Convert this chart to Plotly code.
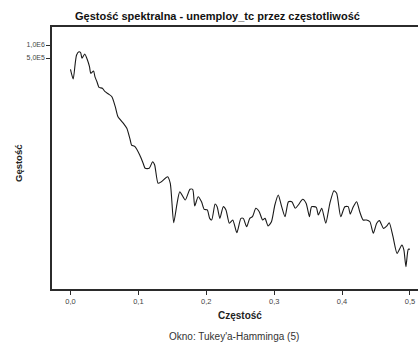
import plotly.graph_objects as go

# Spectral density estimate of unemploy_tc (Tukey-Hamming window, span 5)
frequency = [
    0.000, 0.004, 0.007, 0.009, 0.0125, 0.015, 0.017, 0.021, 0.025, 0.028,
    0.030, 0.034, 0.036, 0.039, 0.042, 0.047, 0.051, 0.056, 0.061, 0.066,
    0.070, 0.078, 0.083, 0.088, 0.090, 0.095, 0.102, 0.107, 0.110, 0.116,
    0.121, 0.124, 0.129, 0.134, 0.143, 0.147, 0.152, 0.157, 0.161, 0.169,
    0.176, 0.180, 0.183, 0.188, 0.193, 0.197, 0.2015, 0.205, 0.208, 0.213,
    0.216, 0.220, 0.225, 0.229, 0.234, 0.239, 0.245, 0.251, 0.2545, 0.2595,
    0.264, 0.268, 0.273, 0.278, 0.283, 0.2865, 0.291, 0.296, 0.301, 0.306,
    0.311, 0.316, 0.321, 0.326, 0.331, 0.3355, 0.342, 0.347, 0.352, 0.355,
    0.362, 0.365, 0.370, 0.376, 0.382, 0.388, 0.392, 0.398, 0.404, 0.409,
    0.412, 0.4165, 0.4215, 0.426, 0.431, 0.436, 0.441, 0.446, 0.451, 0.455,
    0.461, 0.466, 0.4695, 0.475, 0.481, 0.488, 0.491, 0.494, 0.4975, 0.500,
]
density = [
    2.74e5, 1.63e5, 3.77e5, 5.88e5, 7.0e5, 6.64e5, 4.92e5, 6.19e5, 4.50e5, 3.15e5,
    2.21e5, 2.50e5, 1.85e5, 1.41e5, 1.05e5, 9.95e4, 8.30e4, 7.35e4, 6.35e4, 3.73e4,
    2.19e4, 1.54e4, 1.18e4, 6.32e3, 4.84e3, 4.43e3, 2.84e3, 1.83e3, 1.40e3, 1.40e3,
    1.99e3, 1.67e3, 630, 686, 893, 630, 77, 217, 402, 258,
    457, 457, 188, 308, 236, 157, 152, 97, 89, 208,
    181, 97, 181, 152, 75, 89, 45, 97, 97, 62,
    97, 106, 166, 138, 89, 97, 65, 81, 198, 337,
    181, 106, 236, 236, 166, 198, 268, 217, 106, 181,
    175, 116, 166, 75, 217, 424, 369, 106, 181, 181,
    122, 181, 236, 138, 89, 89, 81, 44, 75, 86,
    57, 65, 77, 36.5, 15, 23.4, 18, 7.4, 18.7, 18.7,
]

x_ticks = [0.0, 0.1, 0.2, 0.3, 0.4, 0.5]
x_tick_labels = ["0,0", "0,1", "0,2", "0,3", "0,4", "0,5"]
y_ticks = [1.0e6, 5.0e5]
y_tick_labels = ["1,0E6", "5,0E5"]

FONT = "Liberation Sans, Arial, sans-serif"
AXIS_COLOR = "#2b2b2b"

W, H = 418, 343
M_L, M_R, M_T, M_B = 52, 0, 27, 54
PLOT_W = W - M_L - M_R
PLOT_H = H - M_T - M_B


def px_x(px):
    """Horizontal page pixel -> paper fraction."""
    return (px - M_L) / PLOT_W


def px_y(py):
    """Vertical page pixel (from top) -> paper fraction."""
    return (H - M_B - py) / PLOT_H


fig = go.Figure(
    go.Scatter(
        x=frequency,
        y=density,
        mode="lines",
        line=dict(color="#1a1a1a", width=1.1, shape="spline", smoothing=0.6),
        hoverinfo="skip",
    )
)

fig.update_layout(
    width=W,
    height=H,
    margin=dict(l=M_L, r=M_R, t=M_T, b=M_B),
    paper_bgcolor="white",
    plot_bgcolor="white",
    showlegend=False,
    font=dict(family=FONT, color="#333333"),
    xaxis=dict(
        range=[-0.0272, 0.5118],
        tickvals=x_ticks,
        ticktext=x_tick_labels,
        ticks="outside",
        ticklen=4,
        tickwidth=1,
        tickcolor=AXIS_COLOR,
        tickfont=dict(size=7.5, color="#444444"),
        showline=True,
        linecolor=AXIS_COLOR,
        linewidth=1.5,
        mirror=True,
        showgrid=False,
        zeroline=False,
    ),
    yaxis=dict(
        type="log",
        range=[0.352, 6.417],
        tickvals=y_ticks,
        ticktext=y_tick_labels,
        ticks="outside",
        ticklen=4,
        tickwidth=1,
        tickcolor=AXIS_COLOR,
        tickfont=dict(size=7, color="#444444"),
        showline=True,
        linecolor=AXIS_COLOR,
        linewidth=1.5,
        showgrid=False,
        zeroline=False,
    ),
    annotations=[
        dict(
            text="<b>Gęstość spektralna - unemploy_tc przez częstotliwość</b>",
            x=px_x(217), y=px_y(16), xref="paper", yref="paper",
            xanchor="center", yanchor="middle",
            showarrow=False, font=dict(size=11, color="#111111"),
        ),
        dict(
            text="<b>Częstość</b>",
            x=px_x(240), y=px_y(315), xref="paper", yref="paper",
            xanchor="center", yanchor="middle",
            showarrow=False, font=dict(size=10, color="#222222"),
        ),
        dict(
            text="<b>Gęstość</b>",
            x=px_x(18), y=px_y(163), xref="paper", yref="paper",
            xanchor="center", yanchor="middle", textangle=-90,
            showarrow=False, font=dict(size=9.5, color="#222222"),
        ),
        dict(
            text="Okno: Tukey'a-Hamminga (5)",
            x=px_x(234), y=px_y(336), xref="paper", yref="paper",
            xanchor="center", yanchor="middle",
            showarrow=False, font=dict(size=10, color="#333333"),
        ),
    ],
)

fig.write_html("out.html")
